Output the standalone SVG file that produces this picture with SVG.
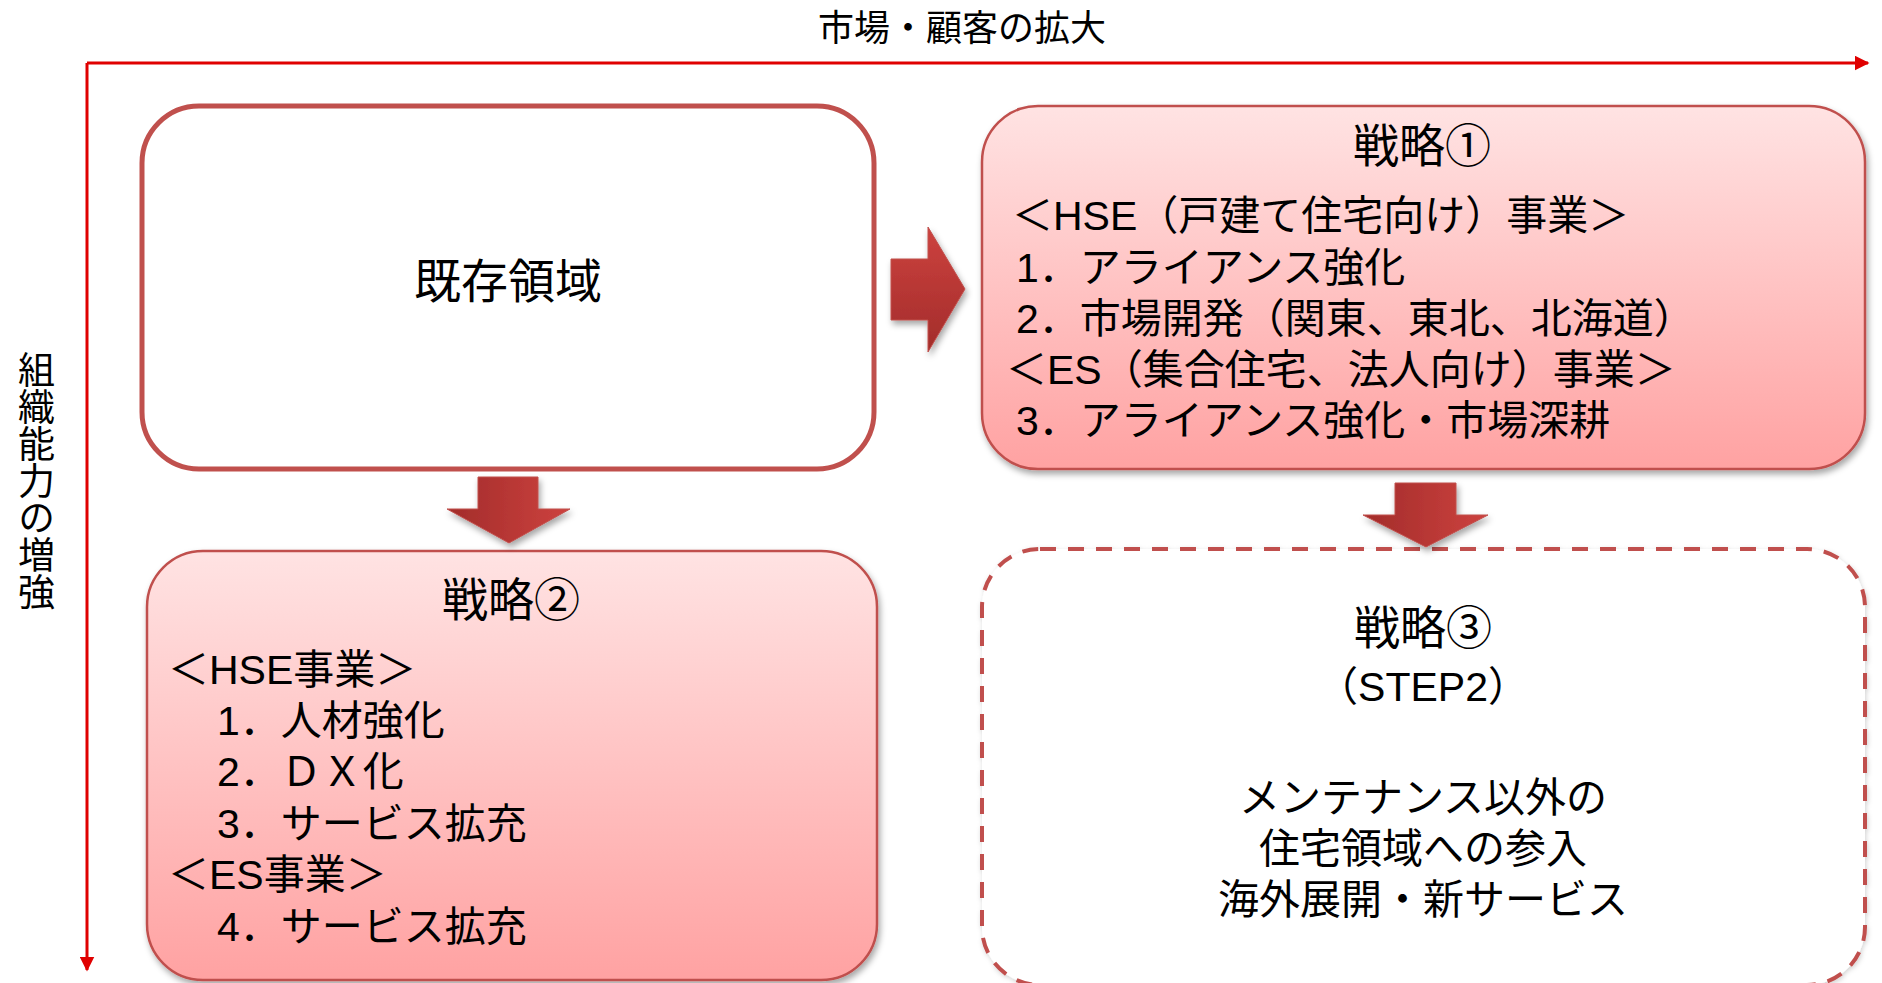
<svg xmlns="http://www.w3.org/2000/svg" width="1882" height="983" viewBox="0 0 1882 983">
  <style>
    text { font-family: "Liberation Sans", "Noto Sans CJK JP", sans-serif; fill: #000000; }
    .title { font-size: 46px; text-anchor: middle; }
    .body { font-size: 41px; }
    .center { text-anchor: middle; }
    .axis { stroke: #e00000; stroke-width: 3; fill: none; }
    .solidbox { fill: url(#pinkGrad); stroke: #c0504d; stroke-width: 2.5; filter: url(#shadow); }
  </style>
  <defs>
    <linearGradient id="pinkGrad" x1="0" y1="0" x2="0" y2="1">
      <stop offset="0" stop-color="#ffe3e3"/>
      <stop offset="1" stop-color="#ffa2a2"/>
    </linearGradient>
    <linearGradient id="arrowV" x1="0" y1="0" x2="0" y2="1">
      <stop offset="0" stop-color="#cd423f"/>
      <stop offset="1" stop-color="#a22c2a"/>
    </linearGradient>
    <linearGradient id="arrowH" x1="0" y1="0" x2="1" y2="0">
      <stop offset="0" stop-color="#a22c2a"/>
      <stop offset="1" stop-color="#cd423f"/>
    </linearGradient>
    <filter id="shadow" x="-10%" y="-10%" width="120%" height="130%">
      <feDropShadow dx="2" dy="4" stdDeviation="3" flood-color="#000000" flood-opacity="0.35"/>
    </filter>
    <filter id="softshadow" x="-10%" y="-10%" width="120%" height="130%">
      <feDropShadow dx="1" dy="2" stdDeviation="2.5" flood-color="#000000" flood-opacity="0.18"/>
    </filter>
    <marker id="axisHead" viewBox="0 0 10 10" refX="9" refY="5" markerWidth="5" markerHeight="5" orient="auto" markerUnits="strokeWidth">
      <path d="M0,0 L10,5 L0,10 Z" fill="#e00000"/>
    </marker>
  </defs>

  <rect width="1882" height="983" fill="#ffffff"/>

  <g id="axes">
    <path class="axis" d="M87,63 H1868" marker-end="url(#axisHead)"/>
    <path class="axis" d="M87,63 V970" marker-end="url(#axisHead)"/>
    <text x="962" y="41" font-size="36" text-anchor="middle">市場・顧客の拡大</text>
    <text x="33" y="351" font-size="37" writing-mode="vertical-rl" style="writing-mode: vertical-rl;">組織能力の増強</text>
  </g>

  <g id="node-existing">
    <rect x="142" y="106" width="732" height="363" rx="57" ry="57" fill="#ffffff" stroke="#c0504d" stroke-width="5"/>
    <text x="508" y="298" font-size="47" text-anchor="middle">既存領域</text>
  </g>

  <g id="node-strategy1">
    <rect class="solidbox" x="982" y="106" width="883" height="363" rx="56" ry="56"/>
    <text class="title" x="1422" y="162">戦略①</text>
    <text class="body"><tspan x="1012" y="230">＜HSE（戸建て住宅向け）事業＞</tspan><tspan x="1016" y="282">1．アライアンス強化</tspan><tspan x="1016" y="333">2．市場開発（関東、東北、北海道）</tspan><tspan x="1006" y="384">＜ES（集合住宅、法人向け）事業＞</tspan><tspan x="1016" y="435">3．アライアンス強化・市場深耕</tspan></text>
  </g>

  <g id="node-strategy2">
    <rect class="solidbox" x="147" y="551" width="730" height="429" rx="56" ry="56"/>
    <text class="title" x="511" y="616">戦略②</text>
    <text class="body"><tspan x="168" y="684">＜HSE事業＞</tspan><tspan x="217" y="735">1．人材強化</tspan><tspan x="217" y="786">2．ＤＸ化</tspan><tspan x="217" y="838">3．サービス拡充</tspan><tspan x="168" y="889">＜ES事業＞</tspan><tspan x="217" y="941">4．サービス拡充</tspan></text>
  </g>

  <g id="node-strategy3">
    <rect x="982" y="549" width="883" height="436" rx="58" ry="58" fill="#ffffff" stroke="#c0504d" stroke-width="4" stroke-dasharray="16 12" filter="url(#softshadow)"/>
    <text class="center"><tspan class="title" x="1423" y="644">戦略③</tspan><tspan class="body" x="1423" y="701">（STEP2）</tspan></text>
    <text class="body center"><tspan x="1423" y="812">メンテナンス以外の</tspan><tspan x="1423" y="863">住宅領域への参入</tspan><tspan x="1423" y="914">海外展開・新サービス</tspan></text>
  </g>

  <g id="connectors">
    <path id="arrow-right" d="M891,259 H928 V227 L965,289 L928,352 V320 H891 Z" fill="url(#arrowV)" stroke="#c0504d" stroke-width="1" filter="url(#shadow)"/>
    <path id="arrow-down-left" d="M478,477 H538 V509 H570 L509,543 L447,509 H478 Z" fill="url(#arrowH)" stroke="#c0504d" stroke-width="1" filter="url(#shadow)"/>
    <path id="arrow-down-right" d="M1395,483 H1456 V515 H1488 L1426,547 L1363,515 H1395 Z" fill="url(#arrowH)" stroke="#c0504d" stroke-width="1" filter="url(#shadow)"/>
  </g>
</svg>
